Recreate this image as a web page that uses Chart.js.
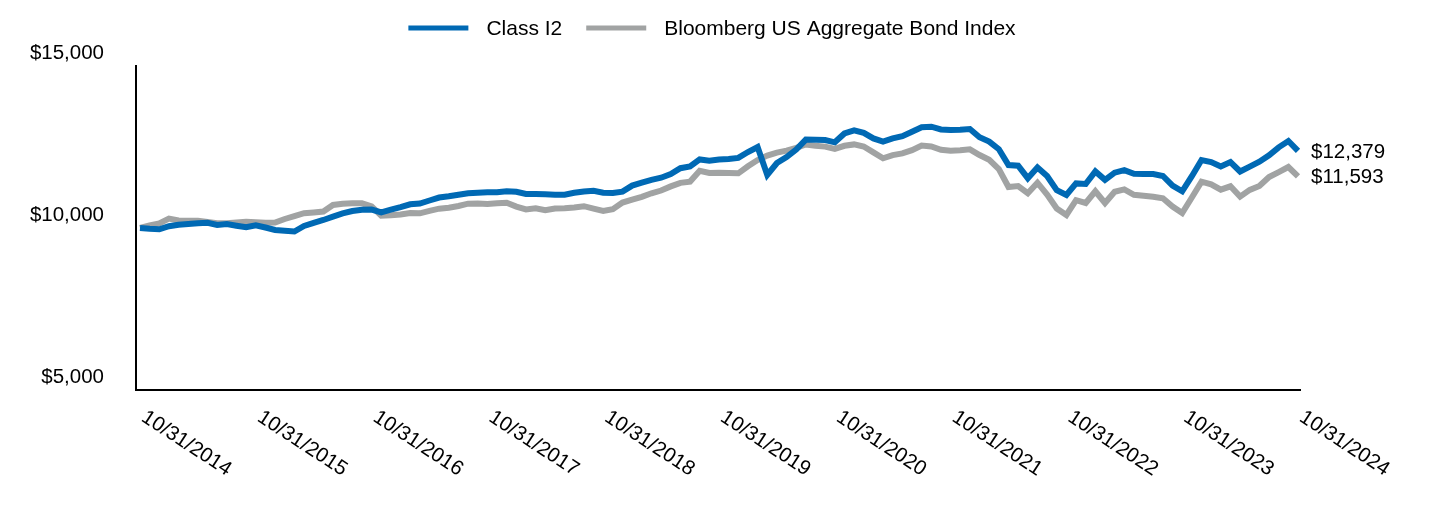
<!DOCTYPE html>
<html lang="en">
<head>
<meta charset="UTF-8">
<title>Growth of $10,000</title>
<script src="https://cdn.jsdelivr.net/npm/chart.js@4.4.1/dist/chart.umd.min.js"></script>
<style>
    html, body { margin: 0; padding: 0; background: #fff; }
    #wrap { width: 1440px; height: 516px; }
</style>
</head>
<body>
<div id="wrap"><canvas id="growth"></canvas></div>
<script>
// month index 0 = 10/31/2014 ... 120 = 10/31/2024
var xTickIndex = [0, 12, 24, 36, 48, 60, 72, 84, 96, 108, 120];
var xTickLabels = ['10/31/2014', '10/31/2015', '10/31/2016', '10/31/2017', '10/31/2018', '10/31/2019',
                   '10/31/2020', '10/31/2021', '10/31/2022', '10/31/2023', '10/31/2024'];
var yTicks = [5000, 10000, 15000];

var seriesNames = ['Class I2', 'Bloomberg US Aggregate Bond Index'];
var endLabels = ['$12,379', '$11,593'];

var classI2 = [
    10000, 9975, 9960, 10056, 10099, 10123, 10145, 10160, 10093, 10123, 10071, 10022,
    10086, 10015, 9938, 9914, 9892, 10062, 10160, 10247, 10349, 10451, 10525, 10565,
    10571, 10485, 10565, 10642, 10731, 10756, 10849, 10941, 10978, 11028, 11074, 11089,
    11102, 11102, 11136, 11120, 11052, 11046, 11040, 11028, 11028, 11086, 11129, 11148,
    11089, 11080, 11123, 11308, 11398, 11487, 11552, 11666, 11845, 11898, 12117, 12080,
    12117, 12129, 12163, 12345, 12499, 11636, 12006, 12191, 12422, 12728, 12725, 12716,
    12645, 12919, 13015, 12935, 12765, 12666, 12765, 12836, 12972, 13111, 13126, 13043,
    13024, 13030, 13055, 12802, 12666, 12432, 11944, 11923, 11537, 11867, 11605, 11166,
    11018, 11376, 11358, 11747, 11487, 11707, 11787, 11673, 11666, 11663, 11605, 11305,
    11133, 11599, 12098, 12037, 11898, 12037, 11744, 11895, 12046, 12243, 12490, 12685,
    12379
];

var bloombergAgg = [
    10000, 10080, 10139, 10290, 10231, 10225, 10222, 10185, 10145, 10145, 10167, 10194,
    10176, 10160, 10170, 10278, 10370, 10457, 10481, 10509, 10710, 10747, 10762, 10762,
    10670, 10383, 10395, 10417, 10463, 10454, 10531, 10596, 10626, 10679, 10750, 10753,
    10741, 10762, 10781, 10660, 10574, 10608, 10546, 10599, 10608, 10630, 10673, 10599,
    10525, 10580, 10784, 10876, 10963, 11071, 11157, 11284, 11392, 11432, 11765, 11697,
    11707, 11697, 11688, 11907, 12098, 12237, 12327, 12389, 12475, 12577, 12537, 12512,
    12441, 12537, 12580, 12515, 12333, 12151, 12250, 12302, 12401, 12543, 12518, 12413,
    12385, 12398, 12429, 12253, 12105, 11821, 11265, 11296, 11074, 11398, 11034, 10602,
    10401, 10858, 10772, 11133, 10772, 11120, 11191, 11025, 10994, 10966, 10917, 10663,
    10463, 10941, 11429, 11349, 11182, 11287, 10969, 11176, 11296, 11574, 11725, 11882,
    11593
];

var BLUE = '#0069b4';
var GREY = '#a1a3a3';
var FONT = '"Liberation Sans", Arial, Helvetica, sans-serif';

function toPoints(arr) {
    return arr.map(function (v, i) { return { x: i, y: v }; });
}

function money(v) {
    return '$' + Number(v).toLocaleString('en-US');
}

// x tick labels, end values and legend are drawn here
var extras = {
    id: 'extras',
    afterDraw: function (chart) {
        var ctx = chart.ctx;
        var xs = chart.scales.x;
        ctx.save();
        ctx.fillStyle = '#000';

        // rotated date labels, text starting at the tick
        ctx.font = '20.5px ' + FONT;
        ctx.textAlign = 'left';
        ctx.textBaseline = 'top';
        xTickIndex.forEach(function (m, k) {
            var px = xs.getPixelForValue(m);
            ctx.save();
            ctx.translate(px + 9, 407);
            ctx.rotate(33 * Math.PI / 180);
            ctx.fillText(xTickLabels[k], 0, 0);
            ctx.restore();
        });

        // ending values next to the last points
        ctx.textBaseline = 'middle';
        chart.data.datasets.forEach(function (ds, i) {
            var meta = chart.getDatasetMeta(i);
            var pt = meta.data[meta.data.length - 1];
            ctx.fillText(endLabels[i], pt.x + 13, pt.y + 1);
        });

        // legend
        ctx.font = '21px ' + FONT;
        var boxW = 60, boxH = 5, gap = 18, itemGap = 24;
        var widths = seriesNames.map(function (s) { return ctx.measureText(s).width; });
        var total = 0;
        widths.forEach(function (w, i) { total += boxW + gap + w + (i ? itemGap : 0); });
        var lx = 712 - total / 2, ly = 28;
        chart.data.datasets.forEach(function (ds, i) {
            ctx.fillStyle = ds.borderColor;
            ctx.fillRect(lx, ly - boxH / 2, boxW, boxH);
            ctx.fillStyle = '#000';
            ctx.fillText(seriesNames[i], lx + boxW + gap, ly + 1);
            lx += boxW + gap + widths[i] + itemGap;
        });
        ctx.restore();
    }
};

var chart = new Chart(document.getElementById('growth'), {
    type: 'line',
    data: {
        datasets: [
            {
                label: seriesNames[0],
                data: toPoints(classI2),
                borderColor: BLUE,
                backgroundColor: BLUE,
                borderWidth: 6,
                pointRadius: 0,
                tension: 0,
                clip: false
            },
            {
                label: seriesNames[1],
                data: toPoints(bloombergAgg),
                borderColor: GREY,
                backgroundColor: GREY,
                borderWidth: 6,
                pointRadius: 0,
                tension: 0,
                clip: false
            }
        ]
    },
    options: {
        responsive: true,
        maintainAspectRatio: false,
        animation: false,
        layout: { padding: { top: 66, right: 140, left: 0, bottom: 0 } },
        plugins: {
            legend: { display: false },
            tooltip: { enabled: false }
        },
        scales: {
            x: {
                type: 'linear',
                min: -0.414,
                max: 120.207,
                grid: { display: false },
                border: { display: true, color: '#000', width: 2 },
                ticks: { display: false },
                afterFit: function (scale) { scale.height = 126; }
            },
            y: {
                min: 5000,
                max: 15000,
                afterBuildTicks: function (scale) {
                    scale.ticks = yTicks.map(function (v) { return { value: v }; });
                },
                grid: { display: false, drawTicks: false },
                border: { display: true, color: '#000', width: 2 },
                ticks: {
                    color: '#000',
                    font: { family: FONT, size: 20.5 },
                    padding: 32,
                    labelOffset: -13,
                    callback: function (v) { return money(v); }
                },
                afterFit: function (scale) { scale.width = 136; }
            }
        }
    },
    plugins: [extras]
});
</script>
</body>
</html>
